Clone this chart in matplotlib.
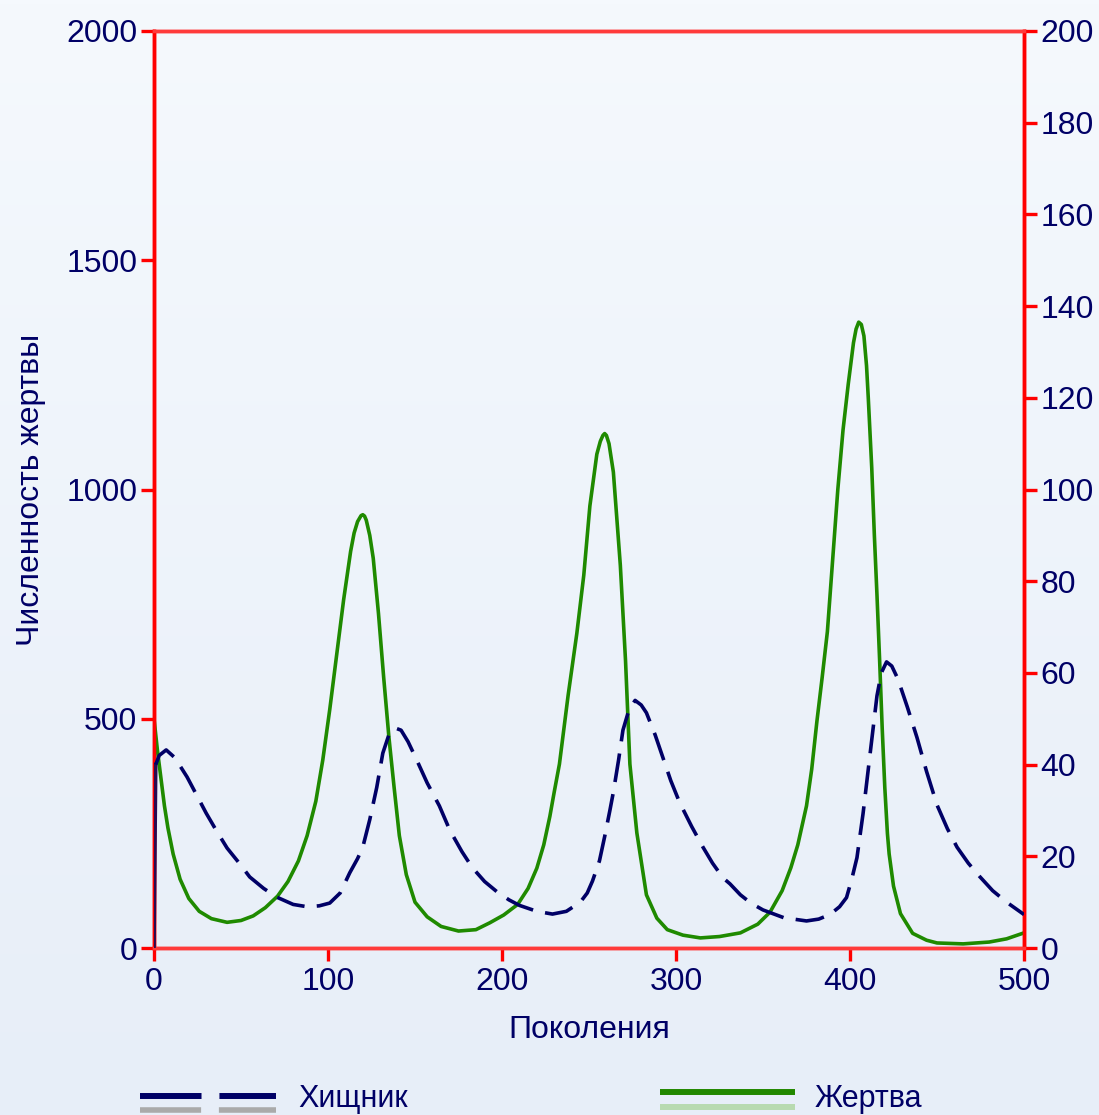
import numpy as np
import matplotlib
matplotlib.use("Agg")
import matplotlib.pyplot as plt
from matplotlib.lines import Line2D

plt.rcParams['font.family'] = ['Liberation Sans', 'DejaVu Sans']

# Prey population (left axis)
prey_gen = [0, 2, 4, 6, 8, 11, 15, 20, 26, 33, 42, 50, 57, 64, 71, 77, 83, 88, 93,
            97, 101, 105, 109, 113, 115, 117, 119, 120, 121, 122, 124, 126, 129, 132,
            135, 138, 141, 145, 150, 157, 165, 175, 185, 193, 201, 209, 215, 220, 224,
            227.5, 230, 233, 238, 243, 247, 250.5, 254.5, 256.5, 258, 259, 260, 261.5,
            264, 268, 271, 273.5, 277.5, 283, 289, 295, 304, 314, 325, 337, 347, 354,
            361, 366, 370, 375, 378, 381, 384, 387, 390, 393, 396, 399, 402, 403.5, 405,
            406.5, 408, 409.5, 410.5, 412.5, 414, 415.5, 417, 418.5, 420, 421.5, 422.5,
            425, 429, 436, 444, 450, 465, 480, 490, 500]
prey = [500, 430, 370, 310, 262, 205, 150, 108, 80, 64, 56, 60, 70, 88, 113, 145, 190,
        245, 320, 410, 520, 640, 760, 865, 905, 930, 943, 945, 942, 933, 900, 850, 730,
        590, 460, 350, 245, 160, 100, 68, 47, 37, 40, 55, 72, 95, 130, 174, 225, 287,
        340, 401, 551, 686, 813, 964, 1077, 1105, 1118, 1122, 1118, 1100, 1038, 835, 626,
        401, 251, 116, 65, 40, 28, 22, 25, 33, 52, 78, 125, 175, 225, 310, 390, 495, 590,
        690, 845, 1000, 1130, 1230, 1320, 1350, 1365, 1360, 1335, 1270, 1200, 1047, 900,
        770, 630, 480, 350, 250, 205, 135, 75, 32, 17, 11, 9, 13, 20, 33]

# Predator population (right axis)
pred_gen = [0, 1, 3, 7, 12, 19, 25, 30, 36, 42, 49, 55, 63, 70.5, 80, 88, 95, 101, 107,
            112.5, 117, 120, 124, 128, 131.5, 135, 138.5, 142, 146, 151, 157, 164, 170,
            177, 183, 190, 197, 204, 210, 220, 229, 237, 245, 249, 252, 256, 259, 262,
            264, 267, 269.5, 273, 276.5, 280, 283, 288, 292.5, 297, 302, 309, 315.5, 321,
            327, 331, 337, 343, 350, 362, 375, 382, 388.5, 394, 398, 401, 404, 407.5,
            411.5, 415.5, 418, 421, 424, 427.5, 433, 438.5, 444, 450, 456, 461.5, 468,
            474.5, 482, 490, 500]
pred = [0, 40, 42, 43.2, 41.5, 37.3, 33, 29.4, 25.5, 21.8, 18.5, 15.5, 13, 11.1, 9.5, 9,
        9.2, 9.8, 12, 16.4, 19.5, 22, 28, 35, 42.5, 46.5, 48, 47.5, 45, 41, 36, 31, 25.7,
        21, 17.5, 14.5, 12.3, 10.5, 9.3, 8, 7.4, 8, 10, 12, 14.6, 19, 24.3, 30, 34, 41,
        47.5, 52, 54, 53, 51.3, 46.5, 41.5, 36.5, 31.8, 26.5, 22, 18.5, 15.3, 14, 11.6,
        9.8, 8.3, 6.6, 5.9, 6.3, 7.3, 9, 11, 15, 19.7, 29.3, 42.2, 55, 60, 62.4, 61.5,
        58.7, 52.5, 45.9, 38.5, 31.2, 26, 22, 18.5, 15.6, 12.5, 10, 7.3]

x_ticks = [0, 100, 200, 300, 400, 500]
left_ticks = [0, 500, 1000, 1500, 2000]
right_ticks = [0, 20, 40, 60, 80, 100, 120, 140, 160, 180, 200]

x_label = "Поколения"
y_label = "Численность жертвы"
pred_name = "Хищник"
prey_name = "Жертва"

NAVY = "#000066"
GREEN = "#1f8a00"
RED = "#ff0000"
RED_LIGHT = "#ff3a3a"

W, H = 1099, 1115
fig = plt.figure(figsize=(W / 100, H / 100), dpi=100)

# soft vertical gradient background
bg = fig.add_axes([0, 0, 1, 1], zorder=-10)
top = np.array([245, 249, 253]) / 255
bot = np.array([231, 238, 248]) / 255
t = np.linspace(0, 1, 256)[:, None, None]
grad = top * (1 - t) + bot * t
bg.imshow(np.repeat(grad, 2, axis=1), aspect='auto', extent=[0, 1, 0, 1])
bg.set_axis_off()

ax = fig.add_axes([154 / W, 1 - 948 / H, 870 / W, 917 / H])
ax.patch.set_alpha(0)
ax2 = ax.twinx()
ax2.patch.set_alpha(0)

ax.plot(prey_gen, prey, color=GREEN, lw=2.6, solid_joinstyle='round',
        solid_capstyle='round', zorder=3)

ax2.plot(pred_gen[:2], pred[:2], color="#2a0a50", lw=2.6, zorder=3)
ax2.plot(pred_gen[1:], pred[1:], color=NAVY, lw=2.6, dashes=(8.0, 3.4),
         dash_joinstyle='round', zorder=3)

ax.set_xlim(0, 500)
ax.set_ylim(0, 2000)
ax2.set_ylim(0, 200)
ax.set_xticks(x_ticks)
ax.set_yticks(left_ticks)
ax2.set_yticks(right_ticks)

for a in (ax, ax2):
    for side, sp in a.spines.items():
        sp.set_linewidth(2.5)
        sp.set_color(RED if side in ('left', 'right') else RED_LIGHT)
        sp.set_zorder(2)
ax.tick_params(axis='both', direction='out', length=9.4, width=2.4, color=RED,
               labelcolor=NAVY, labelsize=23)
ax.tick_params(axis='y', pad=2.5)
ax.tick_params(axis='x', pad=4)
ax2.tick_params(axis='y', direction='out', length=9.4, width=2.4, color=RED,
                labelcolor=NAVY, labelsize=23, pad=2.5)

ax.set_xlabel(x_label, color=NAVY, fontsize=23, labelpad=13)
ax.set_ylabel(y_label, color=NAVY, fontsize=23)
ax.yaxis.set_label_coords(-0.124, 0.5)

# legend below the plot
def fx(px):
    return px / W

def fy(py):
    return 1 - py / H

fig.add_artist(Line2D([fx(140), fx(276)], [fy(1096), fy(1096)], color=NAVY, lw=4.3,
                      dashes=(10.3, 3.0), solid_capstyle='butt'))
fig.add_artist(Line2D([fx(140), fx(276)], [fy(1110), fy(1110)], color="#aaaaaa", lw=4.0,
                      dashes=(11.0, 3.2)))
fig.add_artist(Line2D([fx(660), fx(795)], [fy(1092), fy(1092)], color="#228800", lw=4.3,
                      solid_capstyle='butt'))
fig.add_artist(Line2D([fx(660), fx(795)], [fy(1107), fy(1107)], color="#b8dab0", lw=4.3,
                      solid_capstyle='butt'))
fig.text(fx(298), fy(1107), pred_name, color=NAVY, fontsize=22, va='baseline', ha='left')
fig.text(fx(815), fy(1107), prey_name, color=NAVY, fontsize=22, va='baseline', ha='left')

fig.savefig("out.png", dpi=100)
